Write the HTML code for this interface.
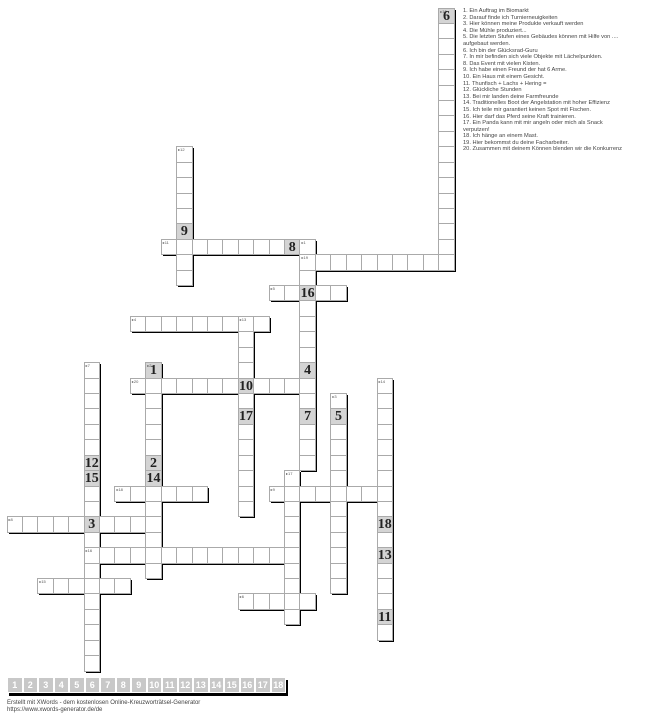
<!DOCTYPE html>
<html><head><meta charset="utf-8">
<style>
html,body{margin:0;padding:0;background:#fff;width:663px;height:720px;overflow:hidden;position:relative;font-family:"Liberation Sans",sans-serif}
.s{position:absolute;background:#000}
.c{position:absolute;box-sizing:border-box;border:1px solid #aaa;background:#fff}
.g{background:#d4d4d4}
.n{position:absolute;left:1px;top:0px;font-size:4px;color:#555;line-height:5px}
.b{position:absolute;left:0;right:0;top:1px;text-align:center;font-family:"Liberation Serif",serif;font-weight:bold;font-size:14px;line-height:14px;color:#222}
#clues{position:absolute;left:463px;top:8px;width:164px;font-size:5.7px;line-height:6.6px;color:#444}
.bar{position:absolute;box-sizing:border-box;border:1px solid #fff;background:#c8c8c8;color:#fff;font-weight:bold;font-size:9px;text-align:center;line-height:14px}
#foot{position:absolute;left:7px;top:700px;font-size:6px;line-height:7px;color:#444}
</style></head><body>
<div id="clues">1. Ein Auftrag im Biomarkt<br>2. Darauf finde ich Turnierneuigkeiten<br>3. Hier können meine Produkte verkauft werden<br>4. Die Mühle produziert...<br>5. Die letzten Stufen eines Gebäudes können mit Hilfe von .... aufgebaut werden.<br>6. Ich bin der Glücksrad-Guru<br>7. In mir befinden sich viele Objekte mit Lächelpunkten.<br>8. Das Event mit vielen Kisten.<br>9. Ich habe einen Freund der hat 6 Arme.<br>10. Ein Haus mit einem Gesicht.<br>11. Thunfisch + Lachs + Hering =<br>12. Glückliche Stunden<br>13. Bei mir landen deine Farmfreunde<br>14. Traditionelles Boot der Angelstation mit hoher Effizienz<br>15. Ich teile mir garantiert keinen Spot mit Fischen.<br>16. Hier darf das Pferd seine Kraft trainieren.<br>17. Ein Panda kann mit mir angeln oder mich als Snack verputzen!<br>18. Ich hänge an einem Mast.<br>19. Hier bekommst du deine Facharbeiter.<br>20. Zusammen mit deinem Können blenden wir die Konkurrenz</div>
<div id="foot">Erstellt mit XWords - dem kostenlosen Online-Kreuzworträtsel-Generator<br>https://www.xwords-generator.de/de</div>
<script>
var S=15.42,X0=6.5,Y0=7.5;
var W=[[10,28,0,'d',17],[19,19,16,'a',10],[11,10,15,'a',10],[1,19,15,'d',15],[12,11,9,'d',9],
[5,17,18,'a',5],[4,8,20,'a',9],[13,15,20,'d',13],[7,5,23,'d',20],[2,9,23,'d',14],[20,8,24,'a',12],
[18,7,31,'a',6],[8,0,33,'a',10],[9,17,31,'a',8],[17,18,30,'d',10],[14,24,24,'d',17],[3,21,25,'d',13],
[16,5,35,'a',14],[15,2,37,'a',6],[6,15,38,'a',5]];
var G={'9,23':1,'9,29':2,'5,33':3,'19,23':4,'21,26':5,'28,0':6,'19,26':7,'18,15':8,'11,14':9,'15,24':10,
'24,39':11,'5,29':12,'24,35':13,'9,30':14,'5,30':15,'19,18':16,'15,26':17,'24,33':18};
var cells={},labels={};
W.forEach(function(w){labels[w[1]+','+w[2]]=w[0];for(var i=0;i<w[4];i++){var c=w[3]=='a'?w[1]+i:w[1],r=w[3]=='a'?w[2]:w[2]+i;cells[c+','+r]=[c,r];}});
var h='';
for(var k in cells){var p=cells[k];h+='<div class="s" style="left:'+(X0+S*p[0]+2)+'px;top:'+(Y0+S*p[1]+2)+'px;width:'+S+'px;height:'+S+'px"></div>';}
for(var k in cells){var p=cells[k];var g=G[k];
h+='<div class="c'+(g?' g':'')+'" style="left:'+(X0+S*p[0])+'px;top:'+(Y0+S*p[1])+'px;width:'+(S+1)+'px;height:'+(S+1)+'px">'+(labels[k]?'<span class="n">▸'+labels[k]+'</span>':'')+(g?'<span class="b">'+g+'</span>':'')+'</div>';}
h+='<div class="s" style="left:9px;top:680px;width:279px;height:16px"></div>';
for(var i=0;i<18;i++)h+='<div class="bar" style="left:'+(7+15.5*i)+'px;top:677px;width:15.5px;height:16px">'+(i+1)+'</div>';
document.body.insertAdjacentHTML('beforeend',h);
</script>
</body></html>
